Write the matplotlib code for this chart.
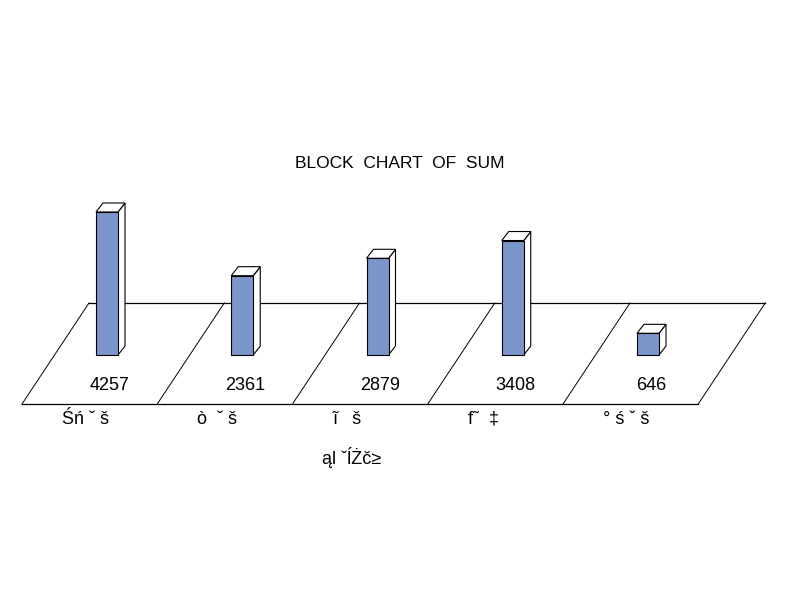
import matplotlib
matplotlib.use("Agg")
import matplotlib.pyplot as plt
from matplotlib.patches import Polygon, Rectangle

plt.rcParams['font.family'] = ['Liberation Sans', 'DejaVu Sans']

categories = ["Śń ˇ š", "ò  ˇ š", "ĩ   š", "f˜  ‡", "° ś ˇ š"]
values = [4257, 2361, 2879, 3408, 646]
title = "BLOCK  CHART  OF  SUM"
xlabel = "ąl ˇĺŻč≥"

fig = plt.figure(figsize=(8, 6), dpi=100)
ax = fig.add_axes([0, 0, 1, 1])
ax.set_axis_off()

# scales: 1 category unit = 135.25 px ; value scale = 143 px per 4257
px_per_cat = 135.25
px_per_val = 143.0 / 4257.0
x0 = -107.0 / px_per_cat
x1 = x0 + 800.0 / px_per_cat
y0 = -245.0 / px_per_val
y1 = y0 + 600.0 / px_per_val
ax.set_xlim(x0, x1)
ax.set_ylim(y0, y1)

def px_x(p):
    return p / px_per_cat

def px_y(p):
    return p / px_per_val

# floor (parallelogram)
n = len(categories)
front_y = px_y(-49)
back_y = px_y(52)
front_left = px_x(22 - 107)
back_left = px_x(89 - 107)
ax.plot([front_left, front_left + n], [front_y, front_y], color='black', lw=0.9, zorder=1)
ax.plot([back_left, back_left + n], [back_y, back_y], color='black', lw=0.9, zorder=1)
for i in range(n + 1):
    ax.plot([front_left + i, back_left + i], [front_y, back_y], color='black', lw=0.7, zorder=1)

# bars
w = px_x(22)
dx = px_x(7)
dy = px_y(9)
face = '#7C95CA'
for i, v in enumerate(values):
    left = i - w / 2
    right = i + w / 2
    ax.add_patch(Polygon([(right, 0), (right + dx, dy), (right + dx, v + dy), (right, v)],
                         closed=True, facecolor='white', edgecolor='black', lw=0.8, zorder=3))
    ax.add_patch(Polygon([(left, v), (right, v), (right + dx, v + dy), (left + dx, v + dy)],
                         closed=True, facecolor='white', edgecolor='black', lw=0.8, zorder=3))
    ax.add_patch(Rectangle((left, 0), w, v, facecolor=face, edgecolor='black', lw=0.8, zorder=4))
    ax.text(i + px_x(3), px_y(-30), str(v), ha='center', va='center', fontsize=13, zorder=5)

for i, c in enumerate(categories):
    ax.text(i - px_x(45), px_y(-64), c, ha='left', va='center', fontsize=13)

ax.text(px_x(352 - 107), px_y(-102), xlabel, ha='center', va='center', fontsize=13)
fig.text(0.5, 1 - 163 / 600, title, ha='center', va='center', fontsize=12.5)

fig.savefig("out.png", dpi=100, facecolor='white')
